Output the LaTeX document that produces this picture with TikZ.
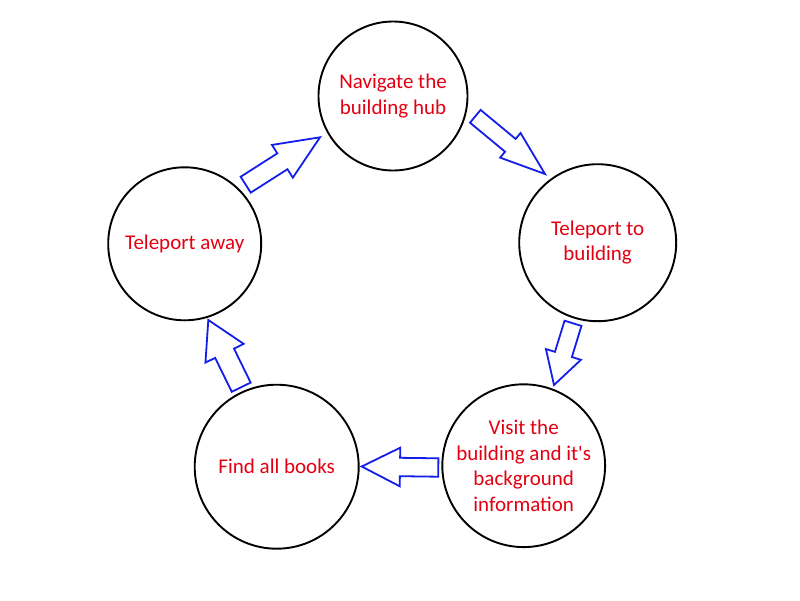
\documentclass[tikz,border=0pt]{standalone}
\usepackage{fontspec}
\setmainfont{Carlito}
\usetikzlibrary{calc}
\definecolor{txtred}{RGB}{228,0,18}
\definecolor{arrblue}{RGB}{20,30,235}
\tikzset{
  stepcircle/.style={circle,draw=black,line width=1.9pt,inner sep=0pt,align=center,
    text=txtred,font=\fontsize{21pt}{25.5pt}\selectfont},
  barrow/.style={draw=arrblue,fill=white,line width=1.8pt,line join=miter}
}
\newcommand\blockarrow[5]{%
  \path ($(#2)!#5!(#1)$) coordinate (neck);
  \draw[barrow] ($(#1)!#3!90:(#2)$) -- ($(neck)!#3!90:(#2)$) -- ($(neck)!#4!90:(#2)$)
    -- (#2) -- ($(neck)!#4!-90:(#2)$) -- ($(neck)!#3!-90:(#2)$) -- ($(#1)!#3!-90:(#2)$) -- cycle;}
\begin{document}
\begin{tikzpicture}[x=1pt,y=-1pt]
\useasboundingbox[fill=white] (0,0) rectangle (800,600);
\node[stepcircle,minimum size=149pt] (nav) at (393,96) {Navigate the\\building hub};
\node[stepcircle,minimum size=157pt] (tpto) at (597.7,242.7) {Teleport to\\building};
\node[stepcircle,minimum size=157pt] (visit) at (523.7,465.7) {Visit the\\building and it\textquotesingle s\\background\\information};
\node[stepcircle,minimum size=164pt] (find) at (276.7,466.7) {Find all books};
\node[stepcircle,minimum size=153pt] (away) at (184.7,243.8) {Teleport away};
% arrow end points
\coordinate (a1t) at (475.3,116.3); \coordinate (a1h) at (545,174);
\coordinate (a2t) at (245.7,184.7); \coordinate (a2h) at (320,137.3);
\coordinate (a3t) at (573,323.3);   \coordinate (a3h) at (554,385);
\coordinate (a4t) at (438.3,467.5); \coordinate (a4h) at (361.7,466.5);
\coordinate (a5t) at (241.2,387.2); \coordinate (a5h) at (208.3,320);
\blockarrow{a1t}{a1h}{8.3pt}{16pt}{45pt}
\blockarrow{a2t}{a2h}{9.4pt}{19.4pt}{44.6pt}
\blockarrow{a3t}{a3h}{8.85pt}{18.3pt}{32pt}
\blockarrow{a4t}{a4h}{9.2pt}{19.3pt}{38.3pt}
\blockarrow{a5t}{a5h}{10.5pt}{21.3pt}{37pt}
\end{tikzpicture}
\end{document}
